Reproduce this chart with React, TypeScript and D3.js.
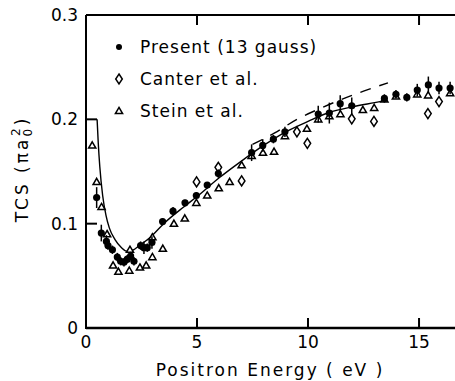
import React from "react";
import * as d3 from "d3";

// Present (13 gauss): energy, TCS, error
const presentE = [0.48, 0.69, 0.92, 0.99, 1.19, 1.41, 1.56, 1.71, 1.86, 2.01, 2.16, 2.46, 2.61, 2.76, 2.97, 3.45, 3.92, 4.46, 4.97, 5.46, 5.96, 7.46, 7.96, 8.44, 8.96, 10.46, 10.96, 11.45, 11.97, 13.44, 13.96, 14.45, 14.92, 15.42, 15.9, 16.4];
const presentV = [0.125, 0.091, 0.083, 0.079, 0.075, 0.068, 0.064, 0.063, 0.066, 0.069, 0.064, 0.079, 0.077, 0.077, 0.082, 0.102, 0.112, 0.12, 0.127, 0.137, 0.148, 0.168, 0.175, 0.181, 0.188, 0.205, 0.206, 0.215, 0.213, 0.22, 0.224, 0.221, 0.228, 0.233, 0.23, 0.23];
const presentErr = [0.01, 0.008, 0.006, 0.004, 0.004, 0.004, 0.004, 0.004, 0.004, 0.004, 0.004, 0.004, 0.006, 0.004, 0.006, 0.003, 0.004, 0.003, 0.003, 0.003, 0.004, 0.008, 0.006, 0.004, 0.005, 0.008, 0.01, 0.008, 0.008, 0.004, 0.004, 0.004, 0.006, 0.008, 0.006, 0.006];

// Canter et al.
const canterE = [4.98, 5.96, 7.01, 9.5, 9.97, 11.97, 12.97, 15.4, 15.9];
const canterV = [0.14, 0.154, 0.141, 0.188, 0.177, 0.2005, 0.198, 0.2055, 0.217];

// Stein et al.
const steinE = [0.28, 0.48, 0.7, 0.95, 1.22, 1.46, 1.95, 1.98, 2.43, 2.71, 2.99, 2.99, 3.46, 3.96, 4.45, 4.97, 5.46, 5.98, 6.47, 7.01, 7.46, 7.97, 8.47, 8.96, 9.95, 10.46, 10.96, 11.46, 12.47, 12.98, 13.44, 13.96, 14.92, 15.41, 16.4];
const steinV = [0.175, 0.14, 0.116, 0.09, 0.06, 0.054, 0.055, 0.075, 0.058, 0.06, 0.068, 0.087, 0.076, 0.1, 0.105, 0.12, 0.127, 0.134, 0.14, 0.156, 0.165, 0.168, 0.169, 0.184, 0.191, 0.2, 0.203, 0.205, 0.209, 0.211, 0.219, 0.222, 0.224, 0.223, 0.225];

// Theory (solid) curve
const solidE = [0.5, 0.55, 0.62, 0.75, 0.9, 1.05, 1.3, 1.6, 1.85, 2.1, 2.4, 2.9, 3.5, 4.4, 5, 6, 7, 8, 9, 10, 11, 12, 13, 13.5];
const solidV = [0.2, 0.178, 0.155, 0.127, 0.108, 0.096, 0.085, 0.077, 0.0735, 0.0745, 0.079, 0.087, 0.1, 0.116, 0.126, 0.144, 0.16, 0.175, 0.188, 0.198, 0.207, 0.212, 0.216, 0.218];

// Dashed curve
const dashE = [7.5, 8.5, 9.5, 10.5, 11.5, 12.5, 13.6];
const dashV = [0.176, 0.187, 0.2, 0.21, 0.219, 0.227, 0.235];

const xTicks = [0, 5, 10, 15];
const xTickLabels = ["0", "5", "10", "15"];
const yTicks = [0, 0.1, 0.2, 0.3];
const yTickLabels = ["0", "0.1", "0.2", "0.3"];

const legendLabels = ["Present (13 gauss)", "Canter et al.", "Stein et al."];

const W = 455;
const H = 381;
const FONT = "'DejaVu Sans', sans-serif";

export default function App() {
  const x = d3.scaleLinear().domain([0, 16.62]).range([86, 455]);
  const y = d3.scaleLinear().domain([0, 0.3]).range([328, 15]);

  const line = d3
    .line<[number, number]>()
    .x((d) => x(d[0]))
    .y((d) => y(d[1]))
    .curve(d3.curveMonotoneX);

  const solidPath = line(solidE.map((e, i) => [e, solidV[i]]) as [number, number][]) || "";
  const dashPath = line(dashE.map((e, i) => [e, dashV[i]]) as [number, number][]) || "";

  const diamond = (cx: number, cy: number) =>
    `M${cx},${cy - 5} L${cx + 3.3},${cy} L${cx},${cy + 5} L${cx - 3.3},${cy} Z`;
  const triangle = (cx: number, cy: number) =>
    `M${cx},${cy - 3.6} L${cx + 3.6},${cy + 2.6} L${cx - 3.6},${cy + 2.6} Z`;

  const x0 = x(0);
  const y0 = y(0);

  return (
    <svg
      width={W}
      height={H}
      style={{ position: "absolute", left: 0, top: 0, background: "#fff" }}
      fontFamily={FONT}
    >
      <rect x={0} y={0} width={W} height={H} fill="#fff" />

      {/* frame */}
      <line x1={x0} y1={y(0.3)} x2={W} y2={y(0.3)} stroke="#000" strokeWidth={2} />
      <line x1={x0} y1={y(0.3)} x2={x0} y2={y0 + 1} stroke="#000" strokeWidth={2} />
      <line x1={x0} y1={y0} x2={W} y2={y0} stroke="#000" strokeWidth={2.4} />

      {/* x ticks */}
      {xTicks.filter((t) => t > 0).map((t) => (
        <g key={"xt" + t}>
          <line x1={x(t)} x2={x(t)} y1={y0} y2={y0 - 10} stroke="#000" strokeWidth={2} />
          <line x1={x(t)} x2={x(t)} y1={y(0.3)} y2={y(0.3) + 10} stroke="#000" strokeWidth={2} />
        </g>
      ))}
      {xTicks.map((t, i) => (
        <text key={"xl" + t} x={x(t)} y={y0 + 20} textAnchor="middle" fontSize={17}>
          {xTickLabels[i]}
        </text>
      ))}

      {/* y ticks */}
      {yTicks.filter((t) => t > 0 && t < 0.3).map((t) => (
        <line key={"yt" + t} x1={x0} x2={x0 + 11} y1={y(t)} y2={y(t)} stroke="#000" strokeWidth={2} />
      ))}
      {yTicks.map((t, i) => (
        <text key={"yl" + t} x={78} y={y(t) + 6} textAnchor="end" fontSize={17}>
          {yTickLabels[i]}
        </text>
      ))}

      {/* axis titles */}
      <text x={270} y={376} textAnchor="middle" fontSize={17} letterSpacing={2}>
        Positron Energy ( eV )
      </text>
      <text
        transform={`translate(28,169) rotate(-90)`}
        textAnchor="middle"
        fontSize={17}
        letterSpacing={3}
      >
        TCS (πa
        <tspan fontSize={12} dy={4}>0</tspan>
        <tspan fontSize={12} dx={-10} dy={-12}>2</tspan>
        <tspan dy={8}>)</tspan>
      </text>

      {/* curves */}
      <path d={solidPath} fill="none" stroke="#000" strokeWidth={1.4} />
      <path d={dashPath} fill="none" stroke="#000" strokeWidth={1.4} strokeDasharray="11 9" />

      {/* Stein triangles */}
      {steinE.map((e, i) => (
        <path key={"s" + i} d={triangle(x(e), y(steinV[i]))} fill="#fff" stroke="#000" strokeWidth={1.5} />
      ))}

      {/* Canter diamonds */}
      {canterE.map((e, i) => (
        <path key={"c" + i} d={diamond(x(e), y(canterV[i]))} fill="#fff" stroke="#000" strokeWidth={1.5} />
      ))}

      {/* Present points */}
      {presentE.map((e, i) => (
        <g key={"p" + i}>
          <line
            x1={x(e)}
            x2={x(e)}
            y1={y(presentV[i] - presentErr[i])}
            y2={y(presentV[i] + presentErr[i])}
            stroke="#000"
            strokeWidth={1.5}
          />
          <circle cx={x(e)} cy={y(presentV[i])} r={3.6} fill="#000" />
        </g>
      ))}

      {/* legend */}
      <circle cx={119} cy={47} r={3} fill="#000" />
      <path d={diamond(119, 79)} fill="#fff" stroke="#000" strokeWidth={1.5} />
      <path d={triangle(119, 111)} fill="#fff" stroke="#000" strokeWidth={1.5} />
      {legendLabels.map((l, i) => (
        <text key={"lg" + i} x={140} y={53 + i * 32} fontSize={17} letterSpacing={1}>
          {l}
        </text>
      ))}
    </svg>
  );
}
